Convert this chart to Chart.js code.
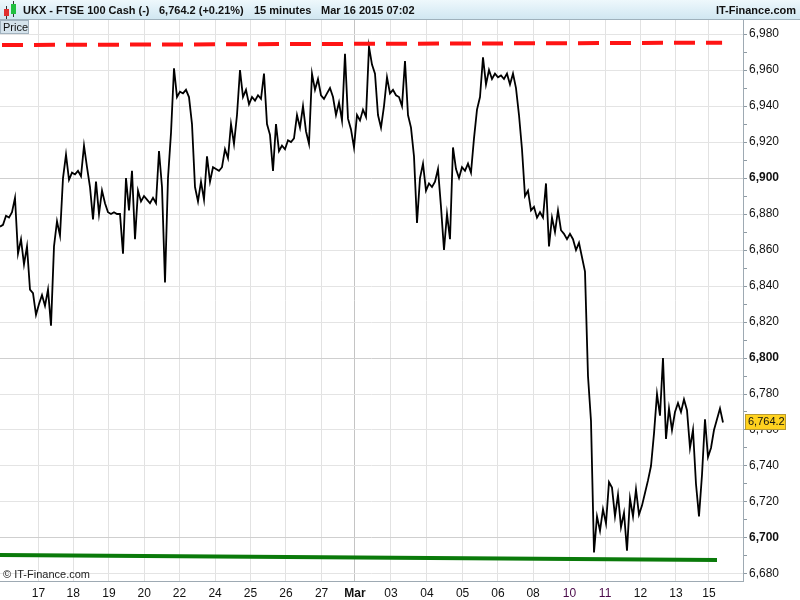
<!DOCTYPE html>
<html>
<head>
<meta charset="utf-8">
<script src="https://cdn.jsdelivr.net/npm/chart.js@4.4.1/dist/chart.umd.min.js"></script>
<style>
  html, body { margin: 0; padding: 0; background: #fff; }
  canvas { display: block; }
</style>
</head>
<body>
<canvas id="chart" width="800" height="600"></canvas>
<script>
// 15-minute closes, one sample per slot (x = slot index)
const prices = [
  6873, 6874, 6879, 6878, 6881, 6889, 6858, 6866, 6852, 6862,
  6838, 6836, 6824, 6830, 6835, 6829, 6838, 6818, 6862, 6876,
  6868, 6900, 6913, 6899, 6903, 6902, 6904, 6901, 6918, 6906,
  6895, 6877, 6898, 6880, 6893, 6886, 6881, 6880, 6881, 6880,
  6880, 6858, 6900, 6882, 6904, 6866, 6893, 6887, 6890, 6888,
  6886, 6889, 6886, 6915, 6895, 6842, 6900, 6925, 6961, 6945,
  6948, 6947, 6949, 6945, 6930, 6895, 6887, 6898, 6888, 6912,
  6898, 6906, 6905, 6904, 6906, 6916, 6911, 6930, 6919, 6935,
  6960, 6945, 6949, 6941, 6945, 6943, 6946, 6944, 6958, 6930,
  6924, 6904, 6930, 6915, 6918, 6916, 6921, 6920, 6922, 6935,
  6928, 6940, 6926, 6919, 6958, 6949, 6955, 6946, 6944, 6947,
  6950, 6945, 6935, 6942, 6932, 6969, 6933, 6927, 6917, 6935,
  6932, 6938, 6934, 6973, 6963, 6958, 6935, 6928, 6940, 6956,
  6947, 6949, 6946, 6945, 6940, 6965, 6935, 6928, 6912, 6875,
  6900, 6908, 6893, 6897, 6895, 6898, 6905, 6884, 6860, 6880,
  6866, 6917, 6905, 6900, 6906, 6904, 6908, 6903, 6922, 6938,
  6945, 6967, 6952, 6960, 6955, 6958, 6956, 6957, 6955, 6958,
  6952, 6958, 6950, 6935, 6916, 6890, 6893, 6882, 6884, 6878,
  6881, 6878, 6897, 6862, 6878, 6870, 6882, 6871, 6869, 6866,
  6869, 6866, 6860, 6864, 6856, 6848, 6790, 6765, 6692, 6712,
  6704, 6716, 6708, 6731, 6728, 6712, 6724, 6706, 6714, 6693,
  6722, 6712, 6727, 6713, 6718, 6725, 6732, 6740, 6758, 6780,
  6768, 6800, 6755, 6772, 6760, 6770, 6775, 6770, 6777, 6771,
  6750, 6760, 6730, 6712, 6735, 6766, 6745, 6750, 6760, 6766,
  6772, 6764.2
];

// day separators on the time axis (slot index) and their labels
const dayPos    = [12.8, 24.4, 36.3, 48.1, 59.8, 71.7, 83.5, 95.3, 107.2, 118.3,
                   130.3, 142.3, 154.2, 166.0, 177.7, 189.8, 201.7, 213.5, 225.3, 236.3];
const dayLabels = ['17', '18', '19', '20', '22', '24', '25', '26', '27', 'Mar',
                   '03', '04', '05', '06', '08', '10', '11', '12', '13', '15'];

// trend lines: [start, end] slot and price
const resistanceX = [0, 240.7];
const resistanceY = [6973.9, 6975.2];
const supportX = [0, 239];
const supportY = [6690.6, 6687.8];

const lastPrice = 6764.2;
const slotCount = 247.67;
const yMin = 6676.1, yMax = 6987.8;

const FONT = '"Liberation Sans", Arial, sans-serif';
const fmt = v => v.toLocaleString('en-US', { minimumFractionDigits: 0, maximumFractionDigits: 1 });

// header bar, "Price" tag, copyright and last price box
const decorations = {
  id: 'decorations',
  beforeDraw(chart) {
    const ctx = chart.ctx;
    ctx.save();
    ctx.fillStyle = '#ffffff';
    ctx.fillRect(0, 0, chart.width, chart.height);
    ctx.restore();
  },
  afterDraw(chart) {
    const ctx = chart.ctx;
    ctx.save();
    // header
    const g = ctx.createLinearGradient(0, 0, 0, 20);
    g.addColorStop(0, '#eef8fc');
    g.addColorStop(1, '#cfe6f1');
    ctx.fillStyle = g;
    ctx.fillRect(0, 0, 800, 20);
    ctx.fillStyle = '#9fb1bc';
    ctx.fillRect(0, 19, 800, 1);
    // candle icon
    ctx.fillStyle = '#333';
    ctx.fillRect(6, 6, 1, 13);
    ctx.fillRect(13, 1, 1, 16);
    ctx.fillStyle = '#e03030';
    ctx.fillRect(4, 9, 5, 7);
    ctx.fillStyle = '#22c040';
    ctx.fillRect(11, 4, 5, 10);
    ctx.fillStyle = '#111';
    ctx.font = 'bold 11px ' + FONT;
    ctx.textBaseline = 'middle';
    ctx.textAlign = 'left';
    ctx.fillText('UKX - FTSE 100 Cash (-)', 23, 11);
    ctx.fillText('6,764.2 (+0.21%)', 159, 11);
    ctx.fillText('15 minutes', 254, 11);
    ctx.fillText('Mar 16 2015 07:02', 321, 11);
    ctx.textAlign = 'right';
    ctx.fillText('IT-Finance.com', 796, 11);
    // Price tag
    ctx.fillStyle = '#d5e3ec';
    ctx.fillRect(0, 20, 29, 14);
    ctx.strokeStyle = '#a3b3bf';
    ctx.lineWidth = 1;
    ctx.strokeRect(0.5, 20.5, 28, 13);
    ctx.fillStyle = '#111';
    ctx.font = '11px ' + FONT;
    ctx.textAlign = 'left';
    ctx.fillText('Price', 3, 27.5);
    // copyright
    ctx.fillStyle = '#222';
    ctx.fillText('\u00A9 IT-Finance.com', 3, 575);
    // last price box
    const y = Math.round(chart.scales.y.getPixelForValue(lastPrice));
    ctx.fillStyle = '#ffd21f';
    ctx.fillRect(745, y - 8, 41, 16);
    ctx.strokeStyle = '#b89a30';
    ctx.strokeRect(745.5, y - 7.5, 40, 15);
    ctx.fillStyle = '#111';
    ctx.fillText(fmt(lastPrice), 748, y);
    ctx.restore();
  }
};

new Chart(document.getElementById('chart'), {
  type: 'line',
  data: {
    datasets: [
      {
        data: resistanceX.map((x, i) => ({ x: x, y: resistanceY[i] })),
        borderColor: '#ff1414',
        borderWidth: 4,
        borderDash: [21, 11],
        borderDashOffset: -2,
        pointRadius: 0
      },
      {
        data: supportX.map((x, i) => ({ x: x, y: supportY[i] })),
        borderColor: '#0a7a0a',
        borderWidth: 4,
        pointRadius: 0
      },
      {
        data: prices.map((p, i) => ({ x: i, y: p })),
        borderColor: '#000000',
        borderWidth: 1.8,
        pointRadius: 0,
        tension: 0
      }
    ]
  },
  options: {
    responsive: false,
    animation: false,
    devicePixelRatio: 1,
    layout: { padding: { top: 20, left: 0, right: 0, bottom: 0 } },
    plugins: { legend: { display: false }, tooltip: { enabled: false } },
    scales: {
      x: {
        type: 'linear',
        min: 0,
        max: slotCount,
        afterFit: s => { s.height = 19; },
        afterBuildTicks: s => { s.ticks = dayPos.map(v => ({ value: v })); },
        border: { color: '#9eaab3', width: 1 },
        grid: {
          drawTicks: false,
          color: c => (c.tick && dayLabels[dayPos.indexOf(c.tick.value)] === 'Mar') ? '#c4c4c4' : '#e2e2e2'
        },
        ticks: {
          autoSkip: false,
          maxRotation: 0,
          padding: 5,
          callback: v => dayLabels[dayPos.indexOf(v)],
          font: c => ({ family: FONT, size: 12, weight: dayLabels[c.index] === 'Mar' ? 'bold' : 'normal' }),
          color: c => (dayLabels[c.index] === '10' || dayLabels[c.index] === '11') ? '#4a0a4a' : '#111'
        }
      },
      y: {
        position: 'right',
        min: yMin,
        max: yMax,
        afterFit: s => { s.width = 57; },
        afterBuildTicks: s => {
          const t = [];
          for (let v = 6680; v <= 6980; v += 10) t.push({ value: v });
          s.ticks = t;
        },
        border: { color: '#9eaab3', width: 1 },
        grid: {
          tickLength: 4,
          color: c => {
            if (!c.tick || c.tick.value % 20 !== 0) return 'rgba(0,0,0,0)';
            return c.tick.value % 100 === 0 ? '#cfcfcf' : '#e4e4e4';
          },
          tickColor: '#8e9aa3'
        },
        ticks: {
          padding: 2,
          color: '#111',
          callback: v => (v % 20 === 0 ? fmt(v) : ''),
          font: c => ({ family: FONT, size: 12, weight: (c.tick && c.tick.value % 100 === 0) ? 'bold' : 'normal' })
        }
      }
    }
  },
  plugins: [decorations]
});
</script>
</body>
</html>
